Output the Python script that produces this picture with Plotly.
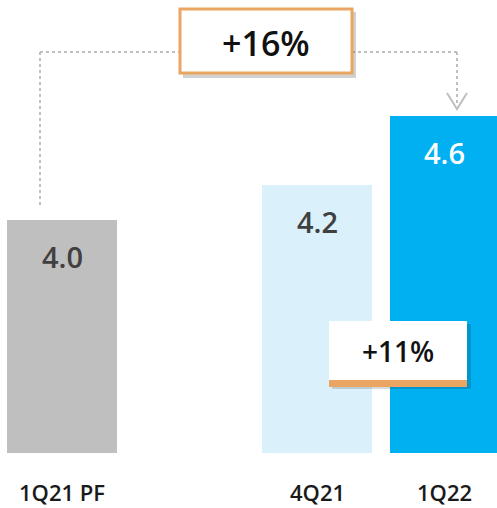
import plotly.graph_objects as go

categories = ["1Q21 PF", "4Q21", "1Q22"]
positions = [0, 2, 3]
values = [4.0, 4.2, 4.6]
value_labels = ["4.0", "4.2", "4.6"]
bar_colors = ["#BFBFBF", "#DAF0FA", "#00B0F0"]
label_colors = ["#404040", "#404040", "#FFFFFF"]
growth_total = "+16%"
growth_qoq = "+11%"

W, H = 497, 508
MB = 55
PH = H - MB
y_min, y_max = 2.656, 5.27

def px(x):
    return x / W

def py(y):
    return (PH - y) / PH

fig = go.Figure()
fig.add_trace(go.Bar(
    x=positions, y=[v - y_min for v in values], base=y_min,
    marker=dict(color=bar_colors, line=dict(width=0)),
    width=0.86, hoverinfo="skip", showlegend=False,
))

annotations = []
for p, v, t, c in zip(positions, values, value_labels, label_colors):
    annotations.append(dict(x=p, y=v, xref="x", yref="y", text=t, showarrow=False,
                            xanchor="center", yanchor="middle", yshift=-36,
                            font=dict(family="Open Sans", size=29, color=c, weight=600)))
for p, c in zip(positions, categories):
    annotations.append(dict(x=p, y=0, xref="x", yref="paper", text=c, showarrow=False,
                            xanchor="center", yanchor="middle", yshift=-39, borderpad=0,
                            font=dict(family="Open Sans", size=22, color="#1a1a1a", weight=600)))

shapes = []
dot = dict(color="#BFBFBF", width=2, dash="dot")
# connector
shapes.append(dict(type="line", xref="paper", yref="paper", x0=px(40), y0=py(205), x1=px(40), y1=py(52), line=dot))
shapes.append(dict(type="line", xref="paper", yref="paper", x0=px(40), y0=py(52), x1=px(457), y1=py(52), line=dot))
shapes.append(dict(type="line", xref="paper", yref="paper", x0=px(457), y0=py(52), x1=px(457), y1=py(106), line=dot))
# arrow chevron
shapes.append(dict(type="path", xref="paper", yref="paper",
                   path=f"M {px(447)} {py(93)} L {px(457)} {py(109)} L {px(467)} {py(93)}",
                   line=dict(color="#BFBFBF", width=2)))
# +16% box shadow & box
shapes.append(dict(type="rect", xref="paper", yref="paper", x0=px(183), y0=py(12), x1=px(356), y1=py(78),
                   fillcolor="rgba(0,0,0,0.18)", line=dict(width=0)))
shapes.append(dict(type="rect", xref="paper", yref="paper", x0=px(180), y0=py(9), x1=px(352), y1=py(73),
                   fillcolor="#FFFFFF", line=dict(color="#EBA563", width=3)))
# +11% box shadow, box, orange strip
shapes.append(dict(type="rect", xref="paper", yref="paper", x0=px(332), y0=py(324), x1=px(471), y1=py(389),
                   fillcolor="rgba(0,0,0,0.15)", line=dict(width=0)))
shapes.append(dict(type="rect", xref="paper", yref="paper", x0=px(329), y0=py(321), x1=px(467), y1=py(380),
                   fillcolor="#FFFFFF", line=dict(width=0)))
shapes.append(dict(type="rect", xref="paper", yref="paper", x0=px(329), y0=py(380), x1=px(467), y1=py(387),
                   fillcolor="#EBA563", line=dict(width=0)))

annotations.append(dict(x=px(266), y=py(43), xref="paper", yref="paper", text=growth_total, showarrow=False,
                        xanchor="center", yanchor="middle",
                        font=dict(family="Open Sans", size=34, color="#111111", weight=600)))
annotations.append(dict(x=px(398), y=py(351), xref="paper", yref="paper", text=growth_qoq, showarrow=False,
                        xanchor="center", yanchor="middle",
                        font=dict(family="Open Sans", size=28, color="#111111", weight=600)))

fig.update_layout(
    width=W, height=H,
    margin=dict(l=0, r=0, t=0, b=MB),
    paper_bgcolor="white", plot_bgcolor="white",
    xaxis=dict(range=[-62/127.5, (W-62)/127.5], visible=False),
    yaxis=dict(range=[y_min, y_max], visible=False),
    shapes=shapes, annotations=annotations,
    bargap=0,
)
fig.write_html("out.html", config={"displayModeBar": False},
               post_script="document.body.style.margin='0';document.body.style.overflow='hidden';")
